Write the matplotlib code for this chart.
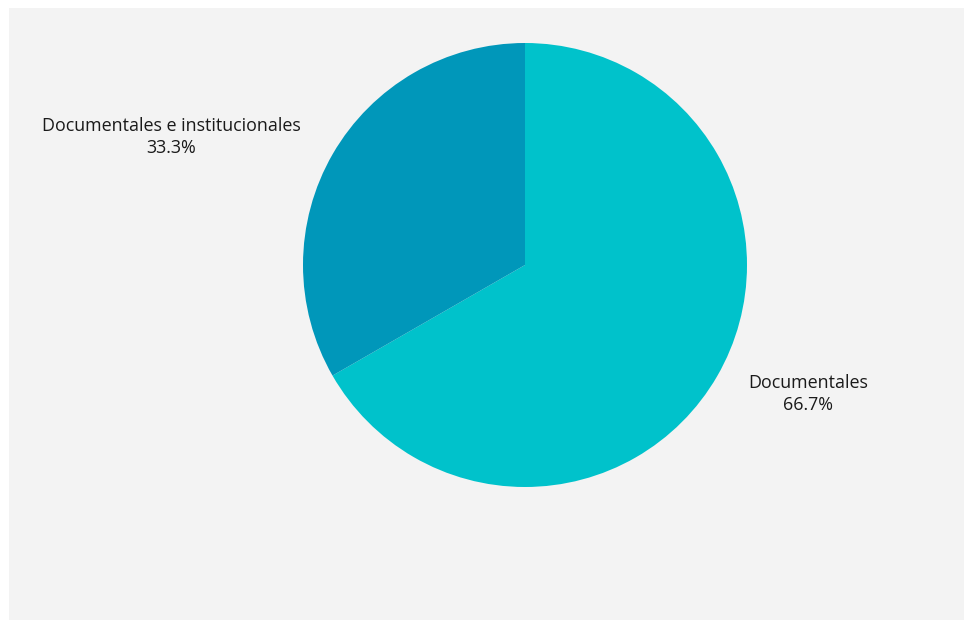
import matplotlib.pyplot as plt
from matplotlib.patches import Rectangle

# データ
categories = ["Documentales", "Documentales e institucionales"]
values = [66.7, 33.3]
colors = ["#00C2CB", "#0097BA"]

W, H = 967, 620

fig = plt.figure(figsize=(W / 100, H / 100), dpi=100)
fig.patch.set_facecolor("white")

# 背景の灰色パネル
ax = fig.add_axes([0, 0, 1, 1])
ax.add_patch(Rectangle((9, 0), 955, H - 8, facecolor="#F3F3F3", edgecolor="none", zorder=0))

# 円グラフ
ax.pie(values, colors=colors, startangle=90, counterclock=False,
       center=(525, H - 265), radius=222, frame=True,
       wedgeprops=dict(linewidth=0, zorder=1))
ax.set_xlim(0, W)
ax.set_ylim(0, H)
ax.set_aspect("equal")
ax.axis("off")

# ラベル
label_pos = {"Documentales": (808, H - 394),
             "Documentales e institucionales": (171, H - 137)}
for cat, val in zip(categories, values):
    x, y = label_pos[cat]
    ax.text(x, y, f"{cat}\n{val:.1f}%", ha="center", va="center",
            fontsize=12.9, family="Open Sans", weight=500, color="#1a1a1a",
            linespacing=1.35, zorder=3)

plt.savefig("out.png", dpi=100, facecolor=fig.get_facecolor())
